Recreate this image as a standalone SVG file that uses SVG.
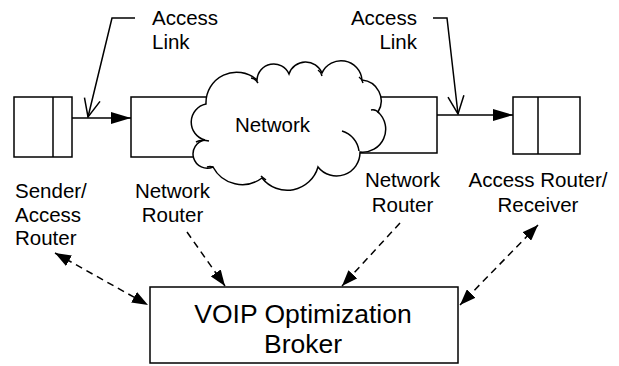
<svg xmlns="http://www.w3.org/2000/svg" width="619" height="366" viewBox="0 0 619 366">
<defs>
<style>
.ln{fill:none;stroke:#000;stroke-width:1.5}
.bx{fill:#fff;stroke:#000;stroke-width:1.5}
.ds{fill:none;stroke:#000;stroke-width:1.5;stroke-dasharray:7 5}
.t{font-family:"Liberation Sans",Arial,sans-serif;font-size:20.5px;fill:#000}
.tb{font-family:"Liberation Sans",Arial,sans-serif;font-size:26.5px;fill:#000}
</style>
<marker id="fa" viewBox="0 0 20 12" refX="20" refY="6" markerWidth="20" markerHeight="12" markerUnits="userSpaceOnUse" orient="auto"><path d="M0,0 L20,6 L0,12 z" fill="#000" stroke="none"/></marker>
<marker id="da" viewBox="0 0 16 12" refX="16" refY="6" markerWidth="16" markerHeight="12" markerUnits="userSpaceOnUse" orient="auto-start-reverse"><path d="M0,0 L16,6 L0,12 z" fill="#000" stroke="none"/></marker>
<marker id="oa" viewBox="0 0 20 20" refX="19" refY="10" markerWidth="20" markerHeight="20" markerUnits="userSpaceOnUse" orient="auto"><path d="M1,2 L19,10 L1,18" fill="none" stroke="#000" stroke-width="1.5"/></marker>
</defs>
<rect width="619" height="366" fill="#fff"/>

<g id="sender">
<rect class="bx" x="14" y="97" width="58" height="60"/>
<line class="ln" x1="53" y1="97" x2="53" y2="157"/>
<text class="t" x="15" y="198">Sender/</text>
<text class="t" x="15" y="222">Access</text>
<text class="t" x="15" y="245">Router</text>
</g>

<g id="router-left">
<rect class="bx" x="131" y="97" width="90" height="60"/>
<text class="t" x="172.5" y="198" text-anchor="middle">Network</text>
<text class="t" x="172.5" y="222" text-anchor="middle">Router</text>
</g>

<g id="router-right">
<rect class="bx" x="350" y="97" width="87" height="56"/>
<text class="t" x="402.5" y="187" text-anchor="middle">Network</text>
<text class="t" x="402.5" y="212" text-anchor="middle">Router</text>
</g>

<g id="network">
<path class="bx" d="M206,104 A30.6,30.6 0 0 1 257,80 A16.7,16.7 0 0 1 289,74 A17.6,17.6 0 0 1 322,73 A21,21 0 0 1 362,80 A21,21 0 0 1 378,112 A23,23 0 0 1 360,152 A23.5,23.5 0 0 1 318,167 A32,32 0 0 1 262,178 A33,33 0 0 1 213,167 A14.2,14.2 0 1 1 205,140 A18.5,18.5 0 0 1 206,104 Z"/>
<path class="ln" d="M342,131 A24,24 0 0 1 359,151"/>
<path class="ln" d="M196,142 Q201,139 209,141"/>
<path class="ln" d="M371,110 Q376,109 379,113"/>
<path class="ln" d="M251,78 Q255,78 258,83"/>
<path class="ln" d="M318,70 Q321,72 322,76"/>
<path class="ln" d="M359,77 Q362,79 363,83"/>
<path class="ln" d="M261,176 Q262,177 266,180"/>
<path class="ln" d="M213,167 Q210,166 207,167"/>
<text class="t" x="272.5" y="132" text-anchor="middle">Network</text>
</g>

<g id="receiver">
<rect class="bx" x="513" y="97" width="67" height="57"/>
<line class="ln" x1="538" y1="97" x2="538" y2="154"/>
<text class="t" x="538" y="187" text-anchor="middle">Access Router/</text>
<text class="t" x="538" y="212" text-anchor="middle">Receiver</text>
</g>

<g id="broker">
<rect class="bx" x="150" y="287" width="308" height="76"/>
<text class="tb" x="303" y="323" text-anchor="middle">VOIP Optimization</text>
<text class="tb" x="303" y="353" text-anchor="middle">Broker</text>
</g>

<g id="access-link-left">
<text class="t" x="152" y="25">Access</text>
<text class="t" x="152" y="49">Link</text>
</g>
<g id="access-link-right">
<text class="t" x="417" y="25" text-anchor="end">Access</text>
<text class="t" x="417" y="49" text-anchor="end">Link</text>
</g>

<g id="connectors">
<line class="ln" x1="72" y1="118" x2="131" y2="118" marker-end="url(#fa)"/>
<line class="ln" x1="437" y1="115" x2="513" y2="115" marker-end="url(#fa)"/>
<polyline class="ln" points="135,18 112,18 88,117" marker-end="url(#oa)"/>
<polyline class="ln" points="433,18 447,18 458,114" marker-end="url(#oa)"/>
<line class="ds" x1="55" y1="253" x2="148" y2="305" marker-start="url(#da)" marker-end="url(#da)"/>
<line class="ds" x1="187" y1="232" x2="225" y2="286" marker-end="url(#da)"/>
<line class="ds" x1="400" y1="223" x2="342" y2="286" marker-end="url(#da)"/>
<line class="ds" x1="538" y1="225" x2="460" y2="305" marker-start="url(#da)" marker-end="url(#da)"/>
</g>
</svg>
